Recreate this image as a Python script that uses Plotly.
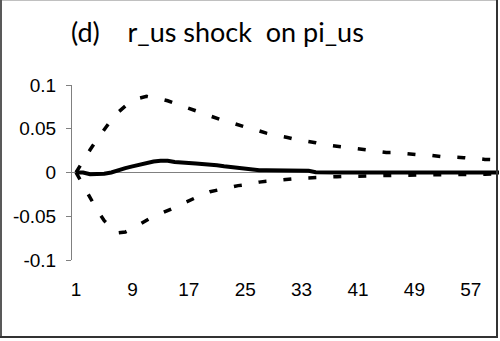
import plotly.graph_objects as go

periods = list(range(1, 63))

response = [0, 0, -0.002, -0.002, -0.0015, 0.0, 0.003, 0.005, 0.007, 0.009,
            0.011, 0.0125, 0.0133, 0.0133, 0.012, 0.011, 0.0108, 0.0102, 0.0098, 0.0088,
            0.0083, 0.0072, 0.0062, 0.0055, 0.0045, 0.0033, 0.0027, 0.0025, 0.0024, 0.0023,
            0.0022, 0.0021, 0.0021, 0.002, 0.0004, 0.0, 0.0, 0.0, 0.0, 0.0,
            0.0, 0.0, 0.0, 0.0, 0.0, 0.0, 0.0, 0.0, 0.0, 0.0,
            0.0, 0.0, 0.0, 0.0, 0.0, 0.0, 0.0, 0.0, 0.0, 0.0,
            0.0, 0.0]

upper = [0, 0.014, 0.026, 0.038, 0.049, 0.06, 0.069, 0.076, 0.081, 0.085,
         0.087, 0.086, 0.084, 0.082, 0.079, 0.076, 0.073, 0.070, 0.067, 0.064,
         0.062, 0.059, 0.057, 0.054, 0.052, 0.050, 0.047, 0.045, 0.043, 0.042,
         0.040, 0.038, 0.037, 0.035, 0.034, 0.032, 0.031, 0.030, 0.029, 0.028,
         0.027, 0.026, 0.025, 0.024, 0.023, 0.023, 0.022, 0.021, 0.021, 0.020,
         0.020, 0.019, 0.018, 0.018, 0.017, 0.017, 0.016, 0.016, 0.015, 0.015,
         0.014, 0.014]

lower = [0, -0.015, -0.030, -0.043, -0.055, -0.063, -0.069, -0.068, -0.064, -0.059,
         -0.054, -0.050, -0.047, -0.044, -0.040, -0.036, -0.032, -0.029, -0.025, -0.022,
         -0.020, -0.018, -0.016, -0.015, -0.014, -0.012, -0.011, -0.010, -0.009, -0.0085,
         -0.008, -0.007, -0.0065, -0.006, -0.0055, -0.005, -0.005, -0.0048, -0.0045, -0.0042,
         -0.004, -0.004, -0.0038, -0.0036, -0.0035, -0.0033, -0.0032, -0.003, -0.003, -0.0028,
         -0.0027, -0.0025, -0.0024, -0.0023, -0.0022, -0.0021, -0.002, -0.002, -0.0019, -0.0018,
         -0.0018, -0.0017]

x_tick_vals = [1, 9, 17, 25, 33, 41, 49, 57]
y_tick_vals = [-0.1, -0.05, 0, 0.05, 0.1]
y_tick_text = ["-0.1", "-0.05", "0", "0.05", "0.1"]
title_text = "(d)\u00a0\u00a0\u00a0 r_us shock\u00a0 on pi_us"

fig = go.Figure()
fig.add_trace(go.Scatter(x=periods, y=upper, mode="lines",
                         line=dict(color="black", width=3.5, dash="8px,17px"),
                         showlegend=False))
fig.add_trace(go.Scatter(x=periods, y=lower, mode="lines",
                         line=dict(color="black", width=3.5, dash="8px,17px"),
                         showlegend=False))
fig.add_trace(go.Scatter(x=periods, y=response, mode="lines",
                         line=dict(color="black", width=4),
                         showlegend=False))

W, H = 500, 341
L, R, T, B = 72, 1, 85, 81
pw = W - L - R
ph = H - T - B

def px_x(p):
    return (p - L) / pw

def px_y(p):
    return (H - B - p) / ph

fig.update_layout(
    width=W, height=H,
    margin=dict(l=L, r=R, t=T, b=B, pad=0),
    paper_bgcolor="white", plot_bgcolor="white",
    xaxis=dict(range=[0.43, 61.0], tickvals=x_tick_vals,
               ticktext=[str(v) for v in x_tick_vals],
               showgrid=False, zeroline=False, showline=False, ticks="",
               tickfont=dict(family="Liberation Sans, Arial", size=19, color="black"),
               ticklabelstandoff=16),
    yaxis=dict(range=[-0.1, 0.1], tickvals=y_tick_vals, ticktext=y_tick_text,
               showgrid=False, zeroline=True, zerolinecolor="#808080", zerolinewidth=1,
               showline=True, linecolor="#808080", linewidth=1,
               ticks="outside", ticklen=5, tickcolor="#808080",
               tickfont=dict(family="Liberation Sans, Arial", size=19, color="black"),
               ticklabelstandoff=6),
    annotations=[dict(text=title_text, xref="paper", yref="paper",
                      x=px_x(217.5), y=px_y(32), xanchor="center", yanchor="middle",
                      showarrow=False,
                      font=dict(family="Lato, Carlito, Calibri", size=27, color="black"))],
    shapes=[
        dict(type="line", xref="paper", yref="paper", x0=px_x(0), x1=px_x(498), y0=px_y(0.5), y1=px_y(0.5),
             line=dict(color="#c0c0c0", width=1)),
        dict(type="line", xref="paper", yref="paper", x0=px_x(1), x1=px_x(1), y0=px_y(0), y1=px_y(338),
             line=dict(color="#595959", width=2)),
        dict(type="line", xref="paper", yref="paper", x0=px_x(497), x1=px_x(497), y0=px_y(0), y1=px_y(338),
             line=dict(color="#333333", width=2)),
        dict(type="line", xref="paper", yref="paper", x0=px_x(0), x1=px_x(498), y0=px_y(337), y1=px_y(337),
             line=dict(color="#333333", width=2)),
    ],
)

fig.write_html("out.html")
